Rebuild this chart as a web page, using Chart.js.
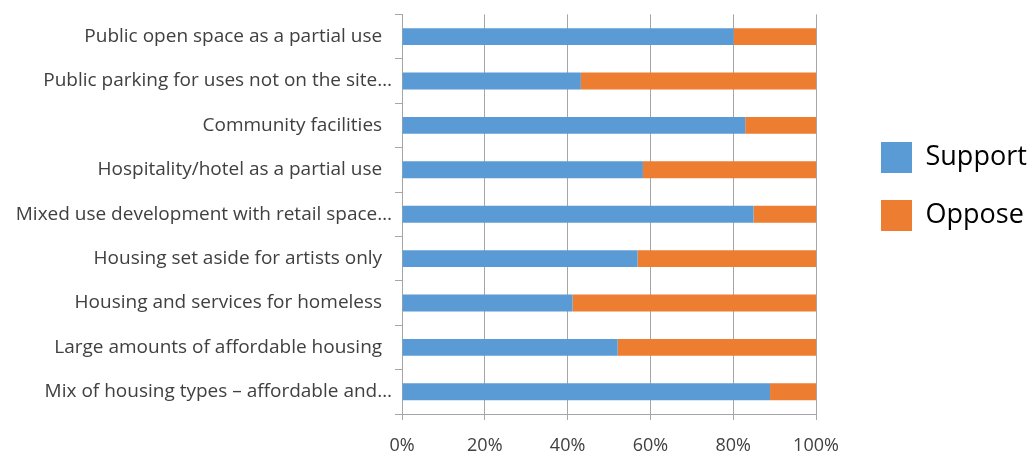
<!DOCTYPE html>
<html>
<head>
<meta charset="utf-8">
<script src="https://cdn.jsdelivr.net/npm/chart.js@4/dist/chart.umd.min.js"></script>
<style>
  html, body { margin: 0; padding: 0; background: #ffffff; }
  #wrap { position: relative; width: 1032px; height: 452px; }
</style>
</head>
<body>
<div id="wrap"><canvas id="c"></canvas></div>
<script>
const categories = [
  "Public open space as a partial use  ",
  "Public parking for uses not on the site…",
  "Community facilities  ",
  "Hospitality/hotel as a partial use  ",
  "Mixed use development with retail space…",
  "Housing set aside for artists only  ",
  "Housing and services for homeless  ",
  "Large amounts of affordable housing  ",
  "Mix of housing types – affordable and…"
];
const supportValues = [80.1, 43.2, 82.9, 58.2, 84.9, 56.9, 41.2, 52.1, 88.9];
const opposeValues  = [19.9, 56.8, 17.1, 41.8, 15.1, 43.1, 58.8, 47.9, 11.1];
const seriesNames = ["Support", "Oppose"];
const xTickValues = [0, 20, 40, 60, 80, 100];

const GRID = '#a6a6a6';
const FONT = "'Open Sans', 'Noto Sans', sans-serif";

new Chart(document.getElementById('c'), {
  type: 'bar',
  data: {
    labels: categories,
    datasets: [
      { label: seriesNames[0], data: supportValues, backgroundColor: '#5b9bd5',
        barPercentage: 0.38, categoryPercentage: 1.0 },
      { label: seriesNames[1], data: opposeValues, backgroundColor: '#ed7d31',
        barPercentage: 0.38, categoryPercentage: 1.0 }
    ]
  },
  options: {
    indexAxis: 'y',
    responsive: true,
    maintainAspectRatio: false,
    animation: false,
    devicePixelRatio: 1,
    layout: { padding: { top: 13, left: 0, right: 0, bottom: 0 } },
    plugins: {
      tooltip: { enabled: false },
      legend: {
        position: 'right',
        align: 'start',
        maxWidth: 178,
        title: { display: true, text: '', padding: { top: 92, bottom: 0 }, font: { size: 10, lineHeight: 1 } },
        labels: {
          boxWidth: 31,
          boxHeight: 31,
          padding: 27,
          color: '#000000',
          font: { family: FONT, size: 27 }
        }
      }
    },
    scales: {
      x: {
        type: 'linear',
        stacked: true,
        min: 0,
        max: 100,
        afterBuildTicks: (s) => { s.ticks = xTickValues.map(v => ({ value: v })); },
        afterFit: (s) => { s.height = 38; },
        ticks: {
          color: '#404040',
          padding: 18,
          font: { family: FONT, size: 18, lineHeight: 0.85 },
          callback: (v) => v + '%'
        },
        grid: { color: GRID, lineWidth: 1, tickLength: 6, drawTicks: true },
        border: { display: true, color: GRID, width: 1 }
      },
      y: {
        stacked: true,
        afterFit: (s) => { s.width = 402; },
        ticks: {
          color: '#404040',
          padding: 3,
          font: { family: FONT, size: 19 }
        },
        grid: { display: true, drawOnChartArea: false, drawTicks: true, tickLength: 7, color: GRID, offset: true },
        border: { display: true, color: GRID, width: 1 }
      },
      yPad: {
        type: 'linear',
        axis: 'y',
        position: 'right',
        display: true,
        afterFit: (s) => { s.width = 38; },
        ticks: { display: false },
        grid: { display: false, drawTicks: false },
        border: { display: false }
      }
    }
  }
});
</script>
</body>
</html>
